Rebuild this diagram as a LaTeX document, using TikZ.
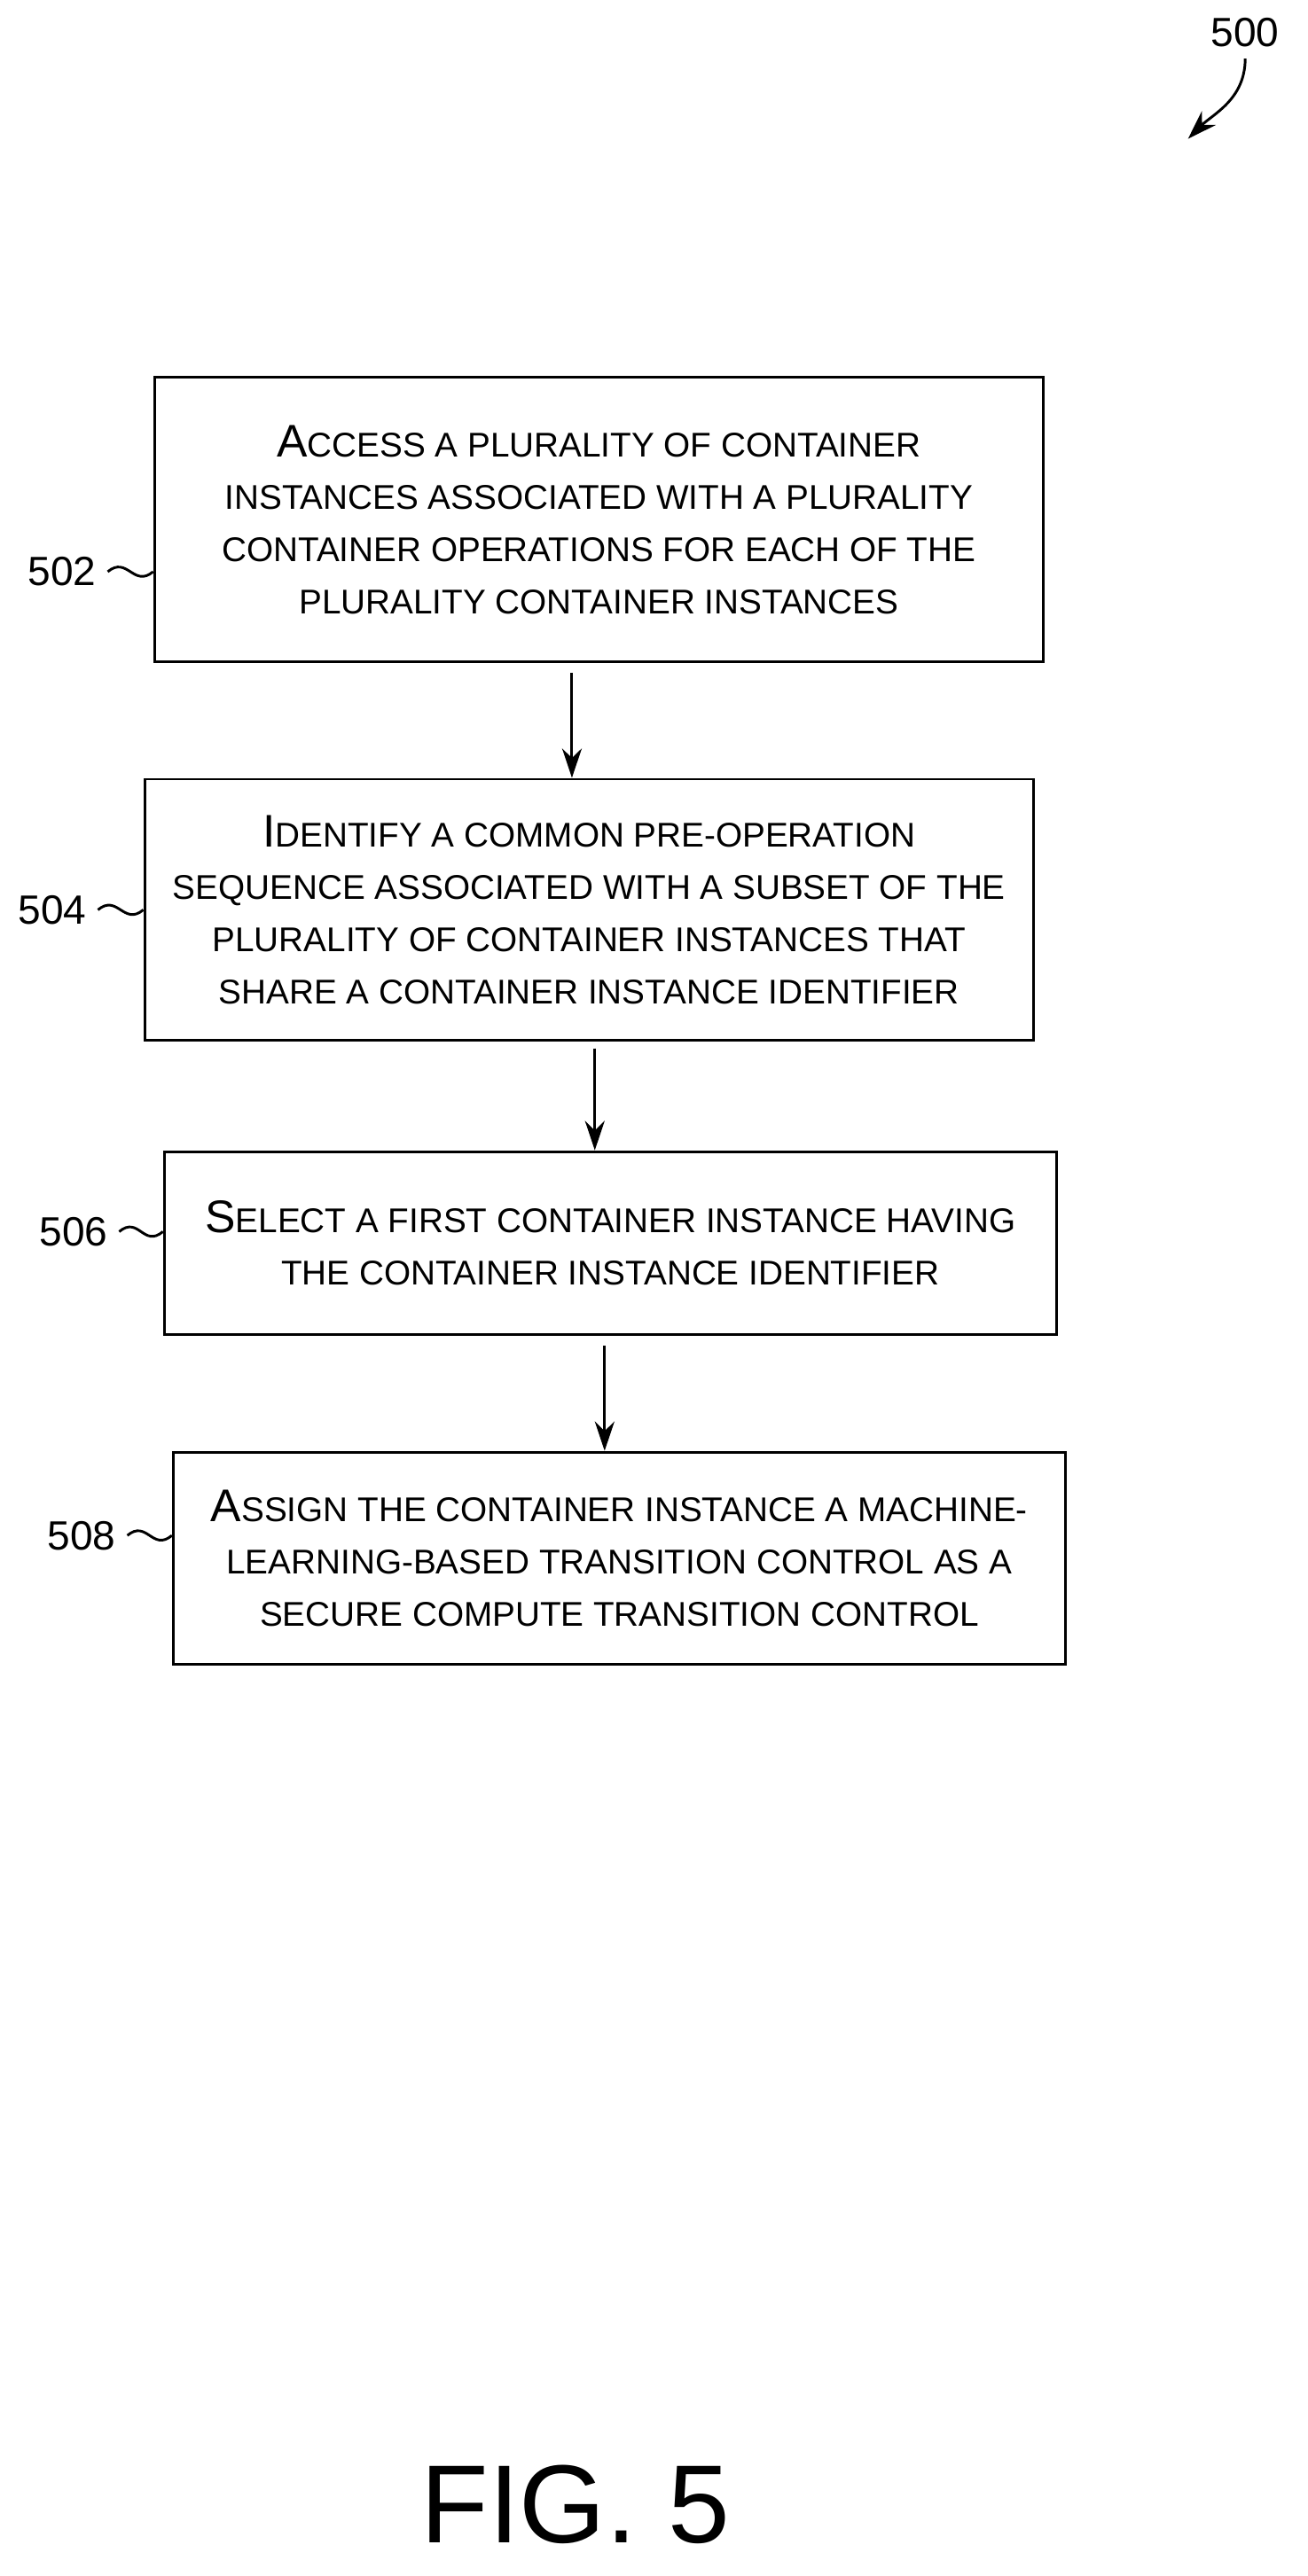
\documentclass[tikz,border=0pt]{standalone}
\usepackage{fontspec}
\setmainfont{Liberation Sans}
\usetikzlibrary{arrows.meta}
\tikzset{
  block/.style={draw,thick,rectangle,fill=white,align=center,font=\fontsize{10.5}{16}\selectfont},
  arrowLine/.style={draw,-{Stealth[length=9pt,width=6pt]},thick},
  refLabel/.style={font=\fontsize{12.5}{14}\selectfont},
  squiggle/.style={draw,thick}
}
\newcommand\bigCap[1]{{\fontsize{14}{16}\selectfont #1}}
\begin{document}
\begin{tikzpicture}[x=0.5pt,y=-0.5pt]
  \useasboundingbox (0,0) rectangle (800,1577);
  \node[block,minimum width=272pt,minimum height=87pt](step502) at (366.5,318)
    {\bigCap{A}CCESS A PLURALITY OF CONTAINER\\INSTANCES ASSOCIATED WITH A PLURALITY\\CONTAINER OPERATIONS FOR EACH OF THE\\PLURALITY CONTAINER INSTANCES};
  \node[block,minimum width=272pt,minimum height=80pt](step504) at (360.5,557)
    {\bigCap{I}DENTIFY A COMMON PRE-OPERATION\\SEQUENCE ASSOCIATED WITH A SUBSET OF THE\\PLURALITY OF CONTAINER INSTANCES THAT\\SHARE A CONTAINER INSTANCE IDENTIFIER};
  \node[block,minimum width=273pt,minimum height=56pt](step506) at (373.5,761)
    {\bigCap{S}ELECT A FIRST CONTAINER INSTANCE HAVING\\THE CONTAINER INSTANCE IDENTIFIER};
  \node[block,minimum width=273pt,minimum height=65pt](step508) at (379,954)
    {\bigCap{A}SSIGN THE CONTAINER INSTANCE A MACHINE-\\LEARNING-BASED TRANSITION CONTROL AS A\\SECURE COMPUTE TRANSITION CONTROL};
  %labels
  \node[refLabel](label502) at (38,350){502};
  \node[refLabel](label504) at (32,557){504};
  \node[refLabel](label506) at (45,754){506};
  \node[refLabel](label508) at (50,940){508};
  \node[refLabel](label500) at (762,20){500};
  \node[font=\fontsize{34}{36}\selectfont](figTitle) at (352,1533){FIG. 5};
  \coordinate (tip500) at (727,85);
  %squiggles
  \path[squiggle](label502.east) .. controls +(12,-10) and +(-12,10) .. (label502.east -| step502.west);
  \path[squiggle](label504.east) .. controls +(12,-10) and +(-12,10) .. (label504.east -| step504.west);
  \path[squiggle](label506.east) .. controls +(12,-10) and +(-12,10) .. (label506.east -| step506.west);
  \path[squiggle](label508.east) .. controls +(12,-10) and +(-12,10) .. (label508.east -| step508.west);
  %arrows
  \path[arrowLine]([yshift=-3pt]step502.south -| 350,0)--(step504.north -| 350,0);
  \path[arrowLine]([yshift=-2pt]step504.south -| 364,0)--(step506.north -| 364,0);
  \path[arrowLine]([yshift=-3pt]step506.south -| 370,0)--(step508.north -| 370,0);
  \path[arrowLine](label500.south) .. controls +(0,25) and +(15,-15) .. (tip500);
\end{tikzpicture}
\end{document}
